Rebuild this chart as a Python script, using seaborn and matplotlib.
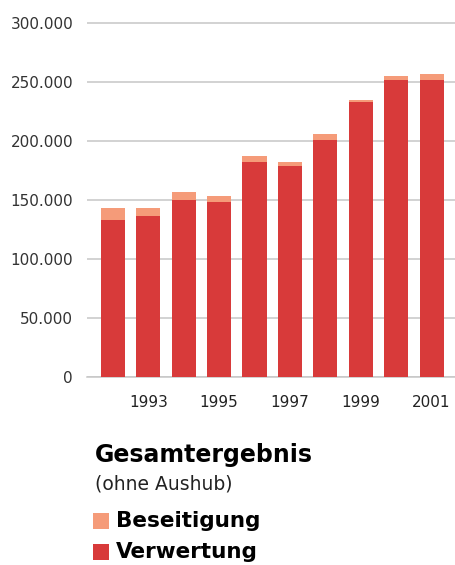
import matplotlib
matplotlib.use("Agg")
import matplotlib.pyplot as plt
import matplotlib.patches as mpatches
import seaborn as sns
import pandas as pd

# Daten
jahre = ["1992", "1993", "1994", "1995", "1996", "1997", "1998", "1999", "2000", "2001"]
verwertung = [132700, 136100, 149700, 148000, 181800, 178500, 200700, 232700, 251600, 251600]
beseitigung = [10200, 6800, 6700, 5300, 5400, 3600, 5100, 1900, 3600, 5000]
yticks = [0, 50000, 100000, 150000, 200000, 250000, 300000]
ytick_labels = ["0", "50.000", "100.000", "150.000", "200.000", "250.000", "300.000"]
xtick_jahre = ["1993", "1995", "1997", "1999", "2001"]

rot = "#d83a3a"
lachs = "#f59b79"
grau = "#c6c6c6"

sns.set_style("white")
plt.rcParams['font.family'] = ['DejaVu Sans']

df = pd.DataFrame({"Jahr": jahre, "Verwertung": verwertung, "Beseitigung": beseitigung})
df["Gesamt"] = df["Verwertung"] + df["Beseitigung"]

fig = plt.figure(figsize=(4.55, 5.65), dpi=100)
ax = fig.add_axes([87 / 455, 1 - 377 / 565, 368 / 455, 357 / 565])

# Gestapelte Balken: Gesamt (Beseitigung oben) und Verwertung darunter
sns.barplot(data=df, x="Jahr", y="Gesamt", color=lachs, width=0.68,
            saturation=1, linewidth=0, ax=ax, order=jahre, zorder=3)
sns.barplot(data=df, x="Jahr", y="Verwertung", color=rot, width=0.68,
            saturation=1, linewidth=0, ax=ax, order=jahre, zorder=4)

ax.set_ylim(0, 302500)
ax.set_xlim(-0.73, 9.66)
ax.set_yticks(yticks)
ax.set_yticklabels(ytick_labels)
ax.set_xticks([jahre.index(j) for j in xtick_jahre])
ax.set_xticklabels(xtick_jahre)
ax.set_xlabel("")
ax.set_ylabel("")

ax.grid(axis="y", color=grau, linewidth=1.1, zorder=0)
ax.set_axisbelow(True)
for s in ["left", "top", "right"]:
    ax.spines[s].set_visible(False)
ax.spines["bottom"].set_color(grau)
ax.spines["bottom"].set_linewidth(1.1)
ax.tick_params(axis="y", length=0, pad=10, labelsize=11, labelcolor="#333333")
ax.tick_params(axis="x", length=0, pad=13, labelsize=11, labelcolor="#222222")

# Titel und Legende unten
fig.text(95 / 455, 1 - 462 / 565, "Gesamtergebnis", fontsize=17, fontweight="bold",
         color="black", va="baseline")
fig.text(95 / 455, 1 - 490 / 565, "(ohne Aushub)", fontsize=13.5,
         color="#222222", va="baseline")

for farbe, name, y0 in [(lachs, "Beseitigung", 513), (rot, "Verwertung", 544)]:
    fig.patches.append(mpatches.Rectangle((93 / 455, 1 - (y0 + 16) / 565), 16 / 455, 16 / 565,
                                          transform=fig.transFigure, color=farbe, lw=0))
    fig.text(116 / 455, 1 - (y0 + 14) / 565, name, fontsize=15.5, fontweight="bold",
             color="black", va="baseline")

plt.savefig("out.png", dpi=100)
